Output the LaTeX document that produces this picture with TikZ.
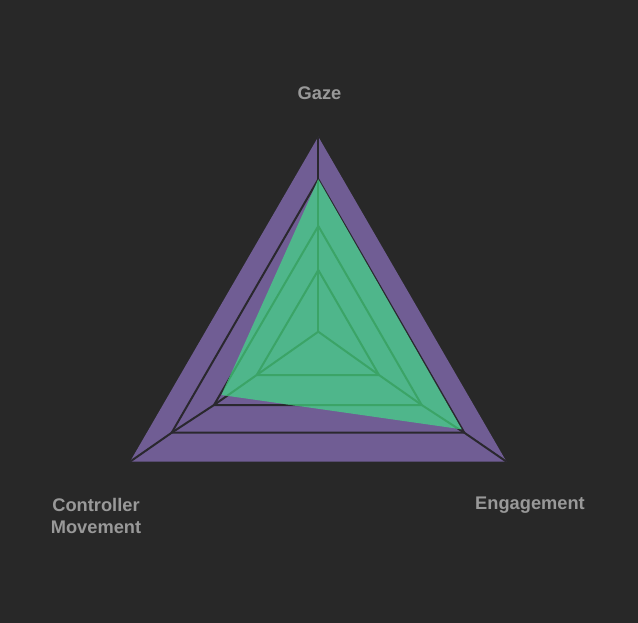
\documentclass[tikz,border=0pt]{standalone}
\usepackage{fontspec}
\setmainfont{Liberation Sans}
\definecolor{bg}{HTML}{282828}
\definecolor{purp}{HTML}{705D94}
\definecolor{grn}{HTML}{4FB68B}
\definecolor{gridc}{HTML}{2A282E}
\definecolor{gridg}{HTML}{3BA467}
\definecolor{lbl}{HTML}{999999}
\tikzset{
  gridline/.style={draw=gridc, line width=1.5pt, line join=round},
  axislabel/.style={text=lbl, font=\fontsize{13.7}{16.5}\selectfont\bfseries, align=center, inner sep=0pt},
}
\begin{document}
\begin{tikzpicture}[x=0.75pt,y=-0.75pt]
\fill[bg] (0,0) rectangle (638,623);
\useasboundingbox (0,0) rectangle (638,623);
% grid coordinates
\coordinate (C)  at (318.3,331.7);
\coordinate (T1) at (318.3,270);
\coordinate (L1) at (256.7,375);
\coordinate (R1) at (379.0,375);
\coordinate (T2) at (318.3,226);
\coordinate (L2) at (214.0,405);
\coordinate (R2) at (421.7,405);
\coordinate (T3) at (318.3,179.3);
\coordinate (L3) at (171.7,432.7);
\coordinate (R3) at (464.3,432.7);
\coordinate (T4) at (318.3,136.7);
\coordinate (L4) at (130.0,461.7);
\coordinate (R4) at (506.5,461.7);
% data
\coordinate (DG) at (318.3,179.3);
\coordinate (DE) at (461.7,429.3);
\coordinate (DC) at (221.5,395);
% outer fill
\fill[purp] (T4) -- (R4) -- (L4) -- cycle;
% grid
\draw[gridline] (T1) -- (R1) -- (L1) -- cycle;
\draw[gridline] (T2) -- (R2) -- (L2) -- cycle;
\draw[gridline] (T3) -- (R3) -- (L3) -- cycle;
\draw[gridline] (C) -- (T1) -- (T2) -- (T3) -- (T4);
\draw[gridline] (C) -- (L1) -- (L2) -- (L3) -- (L4);
\draw[gridline] (C) -- (R1) -- (R2) -- (R3) -- (R4);
% data polygon
\fill[grn] (DG) -- (DE) -- (DC) -- cycle;
\begin{scope}
  \clip (DG) -- (DE) -- (DC) -- cycle;
  \draw[gridline, draw=gridg] (T1) -- (R1) -- (L1) -- cycle;
  \draw[gridline, draw=gridg] (T2) -- (R2) -- (L2) -- cycle;
  \draw[gridline, draw=gridg] (C) -- (T1) -- (T2) -- (T3);
  \draw[gridline, draw=gridg] (C) -- (L1) -- (L2);
  \draw[gridline, draw=gridg] (C) -- (R1) -- (R2) -- (R3);
\end{scope}
% labels
\node[axislabel] (gaze) at (319.5,93) {Gaze};
\node[axislabel] (eng) at (530,505.5) {Engagement};
\node[axislabel] (ctrl) at (96,516) {Controller\\Movement};
\end{tikzpicture}
\end{document}
